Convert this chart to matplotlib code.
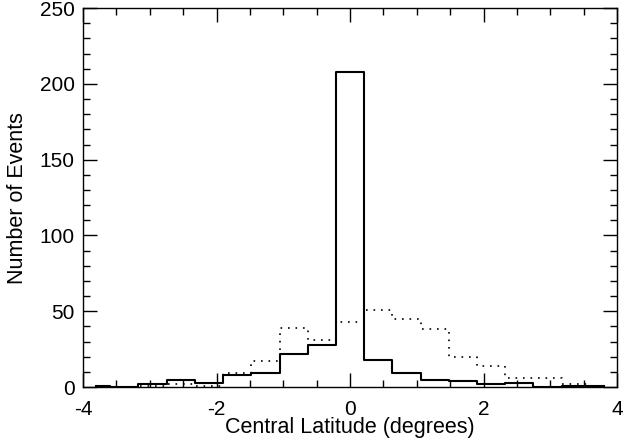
import matplotlib
matplotlib.use("Agg")
import matplotlib.pyplot as plt
import numpy as np
from matplotlib.ticker import MultipleLocator

plt.rcParams['font.family'] = ['Liberation Sans', 'DejaVu Sans']
plt.rcParams['axes.unicode_minus'] = False

# histogram bins (centres), bin width ~0.42
bin_index = np.arange(-9, 10)
bin_width = 0.4225
centers = bin_index * bin_width

# solid: events near the centre, dotted: wider distribution
solid_counts = [1, 0, 2, 5, 3, 8, 9, 22, 28, 208, 18, 9, 5, 4, 2, 3, 0, 1, 1]
dotted_counts = [0, 0, 1, 2, 1, 9, 17, 39, 31, 43, 51, 45, 38, 20, 14, 6, 6, 2, 0]

fig = plt.figure(figsize=(6.24, 4.47), dpi=100)
ax = fig.add_axes([0.133, 0.134, 0.856, 0.848])

ax.step(centers, solid_counts, where='mid', color='black', linewidth=1.5)
ax.step(centers, dotted_counts, where='mid', color='black', linewidth=1.2,
        linestyle=(0, (1, 3.5)))

ax.set_xlim(-4, 4)
ax.set_ylim(0, 250)
ax.xaxis.set_major_locator(MultipleLocator(2))
ax.xaxis.set_minor_locator(MultipleLocator(0.5))
ax.yaxis.set_major_locator(MultipleLocator(50))
ax.yaxis.set_minor_locator(MultipleLocator(10))
ax.tick_params(which='both', direction='in', top=True, right=True,
               labelsize=15, width=1, color='black')
ax.tick_params(which='major', length=10)
ax.tick_params(which='minor', length=5)
ax.tick_params(axis='x', which='major', pad=9)
ax.tick_params(axis='y', which='major', pad=6)
for s in ax.spines.values():
    s.set_linewidth(1)

ax.set_xlabel('Central Latitude (degrees)', fontsize=15.5, labelpad=-1)
ax.set_ylabel('Number of Events', fontsize=15.5, labelpad=8)

plt.savefig("out.png", dpi=100)
